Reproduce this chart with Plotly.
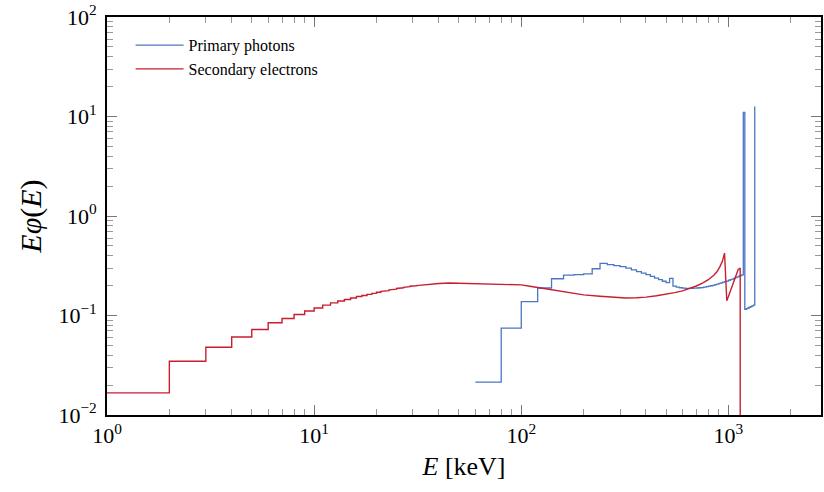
import plotly.graph_objects as go

# ---- Data ----
# Primary photons: 20 keV bins, value per bin (left edge given)
photon_edges = list(range(60, 1360, 20))
photon_values = [
    0.0214, 0.0746, 0.138, 0.189, 0.234, 0.255, 0.257, 0.262, 0.295, 0.334,
    0.325, 0.317, 0.310, 0.300, 0.288, 0.276, 0.266, 0.257, 0.247, 0.238,
    0.229, 0.221, 0.214, 0.236, 0.197, 0.193, 0.190, 0.188, 0.187, 0.187,
    0.187, 0.188, 0.189, 0.190, 0.191, 0.193, 0.195, 0.197, 0.199, 0.201,
    0.204, 0.207, 0.210, 0.213, 0.216, 0.219, 0.222, 0.226, 0.229, 0.232,
    0.236, 0.240, 0.244, 0.248, 0.252, 0.256, 11.0, 0.115, 0.117, 0.119,
    0.121, 0.123, 0.125, 0.127, 12.6,
]

# Secondary electrons: 1 keV bins at low energy (visible steps)
electron_bin_edges = list(range(1, 32))
electron_bin_values = [
    0.0167, 0.0347, 0.0479, 0.0607, 0.0724, 0.0845, 0.0933, 0.1023, 0.111, 0.119,
    0.127, 0.134, 0.140, 0.145, 0.150, 0.155, 0.159, 0.163, 0.167, 0.171,
    0.175, 0.178, 0.181, 0.184, 0.187, 0.190, 0.192, 0.195, 0.197, 0.199,
]
# Secondary electrons: dense (sub-pixel bins) part, sampled
electron_E = [32, 36, 40, 45, 50, 60, 70, 80, 90, 100, 110, 120, 140, 160, 180,
              200, 240, 280, 320, 360, 400, 450, 500, 550, 600, 650, 700, 750,
              800, 850, 880, 910, 935, 958, 982, 1000, 1035, 1060, 1092, 1115,
              1140, 1140]
electron_values = [0.201, 0.206, 0.210, 0.212, 0.211, 0.209, 0.207, 0.206, 0.205,
                   0.203, 0.197, 0.191, 0.180, 0.172, 0.166, 0.161, 0.156, 0.152,
                   0.150, 0.151, 0.153, 0.158, 0.163, 0.170, 0.177, 0.187, 0.198,
                   0.212, 0.229, 0.254, 0.275, 0.310, 0.350, 0.424, 0.141, 0.155,
                   0.190, 0.215, 0.262, 0.290, 0.300, 1e-4]

x_tickvals = [1, 10, 100, 1000]
x_ticktext = ["10<sup>0</sup>", "10<sup>1</sup>", "10<sup>2</sup>", "10<sup>3</sup>"]
y_tickvals = [0.01, 0.1, 1, 10, 100]
y_ticktext = ["10<sup>\u22122</sup>", "10<sup>\u22121</sup>", "10<sup>0</sup>",
              "10<sup>1</sup>", "10<sup>2</sup>"]

# ---- Build electron curve (steps + dense part) ----
ex, ey = [], []
for i, v in enumerate(electron_bin_values):
    ex += [electron_bin_edges[i], electron_bin_edges[i + 1]]
    ey += [v, v]
ex += electron_E
ey += electron_values

FONT = "Liberation Serif"
BLUE = "#4a76c4"
RED = "#c81e30"

fig = go.Figure()
fig.add_trace(go.Scatter(x=photon_edges, y=photon_values, mode="lines",
                         line=dict(color=BLUE, width=1.3, shape="hv"),
                         name="Primary photons"))
fig.add_trace(go.Scatter(x=ex, y=ey, mode="lines",
                         line=dict(color=RED, width=1.4),
                         name="Secondary electrons"))

axis_common = dict(
    showline=True, linecolor="black", linewidth=1.6, mirror="ticks",
    ticks="inside", ticklen=10, tickwidth=1, tickcolor="#777",
    showgrid=False, zeroline=False, ticklabeloverflow="allow",
    tickfont=dict(family=FONT, size=22, color="black"),
    minor=dict(ticks="inside", ticklen=6, tickwidth=1, tickcolor="#999",
               dtick="D1", showgrid=False),
)

fig.update_xaxes(type="log", range=[0, 3.447], tickvals=x_tickvals,
                 ticktext=x_ticktext,
                 title=dict(text="<i>E</i> [keV]", font=dict(family=FONT, size=26, color="black"),
                            standoff=10),
                 **axis_common)
fig.update_yaxes(type="log", range=[-2, 2], tickvals=y_tickvals,
                 ticktext=y_ticktext, ticklabelstandoff=4,
                 title=dict(text="<i>E\u03c6</i>(<i>E</i>)", font=dict(family=FONT, size=30, color="black"),
                            standoff=8),
                 **axis_common)

fig.update_layout(
    width=824, height=492,
    margin=dict(l=107, r=1, t=15, b=77),
    paper_bgcolor="white", plot_bgcolor="white",
    legend=dict(x=0.033, y=0.972, xanchor="left", yanchor="top",
                bgcolor="rgba(0,0,0,0)", borderwidth=0,
                font=dict(family=FONT, size=16, color="black"),
                itemwidth=48, tracegroupgap=0),
)

fig.write_html("out.html")
